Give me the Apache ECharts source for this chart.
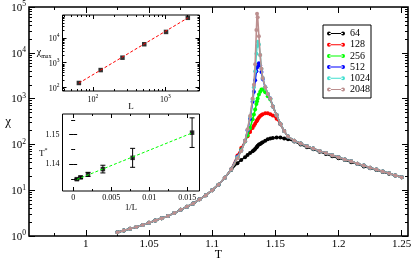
<!DOCTYPE html>
<html><head><meta charset="utf-8">
<script src="https://cdn.jsdelivr.net/npm/echarts@6/dist/echarts.min.js"></script>
<style>html,body{margin:0;padding:0;background:#fff}#c{width:413px;height:260px}</style>
</head><body><div id="c"></div>
<script>
// ---------------- data ----------------
const temps = [1.025,1.03,1.035,1.04,1.045,1.05,1.055,1.06,1.065,1.07,1.075,1.08,1.085,1.09,1.095,1.1,1.105,1.11,1.115,1.12,
  1.123,1.126,1.128,1.13,1.132,1.133,1.134,1.135,1.1355,1.136,1.137,1.138,1.139,1.14,1.142,1.144,1.146,1.148,1.151,1.154,1.157,1.16,
  1.165,1.17,1.175,1.18,1.185,1.19,1.195,1.2,1.205,1.21,1.215,1.22,1.225,1.23,1.235,1.24,1.245,1.25];

const chi64 = [1.20,1.32,1.44,1.58,1.74,1.95,2.19,2.45,2.75,3.16,3.72,4.37,5.13,6.31,7.76,10.0,13.2,18.6,27.5,38.9,
  45.7,52.5,58.9,64.6,70.8,74.1,79.4,85.1,89.1,93.3,100,102,107,112,120,129,135,138,141,141,135,129,
  115,100,87,78,69,62,55,50,45.7,40.7,37.2,33.1,30.2,27.5,25.1,22.9,20.9,19.1];
const chi128 = [1.20,1.32,1.44,1.58,1.74,1.95,2.19,2.45,2.75,3.16,3.72,4.37,5.13,6.31,7.76,10.0,13.2,18.6,28.8,57.5,
  83,120,151,186,229,257,282,316,331,355,389,417,437,457,479,479,457,427,363,275,195,148,
  120,105,91,81,72,65,58,52.5,47,42.7,38,34.7,31,28.2,25.7,23.4,20.9,19.1];
const chi256 = [1.20,1.32,1.44,1.58,1.74,1.95,2.19,2.45,2.75,3.16,3.72,4.37,5.13,6.31,7.76,10.0,13.2,18.6,28.2,52,
  76,115,158,229,355,447,575,759,871,1000,1230,1410,1580,1580,1380,1120,955,676,437,282,195,148,
  120,105,91,81,72,65,58,52.5,47,42.7,38,34.7,31,28.2,25.7,23.4,20.9,19.1];
const chi512 = [1.20,1.32,1.44,1.58,1.74,1.95,2.19,2.45,2.75,3.16,3.72,4.37,5.13,6.31,7.76,10.0,13.2,18.6,28.2,53.7,
  74,117,200,363,851,1410,2510,3980,4790,5370,5890,5250,3800,2690,1780,1260,1000,676,437,282,195,148,
  120,105,91,81,72,65,58,52.5,47,42.7,38,34.7,31,28.2,25.7,23.4,20.9,19.1];
const chi1024 = [1.20,1.32,1.44,1.58,1.74,1.95,2.19,2.45,2.75,3.16,3.72,4.37,5.13,6.31,7.76,10.0,13.2,18.6,28.2,52.5,
  72,117,209,398,955,1780,3980,9550,14100,17400,15100,8900,4470,2820,1780,1260,1000,676,437,282,195,148,
  120,105,91,81,72,65,58,52.5,47,42.7,38,34.7,31,28.2,25.7,23.4,20.9,19.1];
const chi2048 = [1.20,1.32,1.44,1.58,1.74,1.95,2.19,2.45,2.75,3.16,3.72,4.37,5.13,6.31,7.76,10.0,13.2,18.6,28.2,50,
  72,117,214,417,1000,2000,5620,31600,70800,60000,22900,8900,4470,2820,1780,1260,1000,676,437,282,195,148,
  120,105,91,81,72,65,58,52.5,47,42.7,38,34.7,31,28.2,25.7,23.4,20.9,19.1];

const sizeNames = ['64','128','256','512','1024','2048'];

// inset 1: chi_max vs L
const sizesL = [64,128,256,512,1024,2048];
const chiMax = [152,505,1600,5600,17600,65500];
const fitL = [64,2048];
const fitChiMax = [150,65000];

// inset 2: T* vs 1/L
const invL = [0.015625,0.0078125,0.00390625,0.001953,0.000977,0.000488];
const tStar = [1.1507,1.1422,1.1384,1.1366,1.1356,1.1350];
const tStarErr = [0.0050,0.0032,0.0013,0.0007,0.0004,0.0003];
const fitInvL = [0.000488,0.015625];
const fitTStar = [1.1349,1.1506];

// tick values / labels
const mainXMajor = [1,1.05,1.1,1.15,1.2,1.25];
const mainXMinor = [0.975,1.025,1.075,1.125,1.175,1.225];
const mainXLabels = ['1','1.05','1.1','1.15','1.2','1.25'];
const mainYMajor = [1,10,100,1000,10000,100000];
const mainYExp = ['0','1','2','3','4','5'];
const in1XMajor = [100,1000];
const in1XExp = ['2','3'];
const in1YMajor = [100,1000,10000];
const in1YExp = ['2','3','4'];
const in2XMajor = [0,0.005,0.01,0.015];
const in2XLabels = ['0','0.005','0.01','0.015'];
const in2XMinor = [0.0025,0.0075,0.0125];
const in2YMajor = [1.14,1.15];
const in2YLabels = ['1.14','1.15'];
const in2YMinor = [1.135,1.145,1.155];

// ---------------- helpers ----------------
function logMinor(decades, lo, hi) {
  const out = [];
  decades.forEach(d => { for (let k = 2; k <= 9; k++) { const v = k * d; if (v >= lo && v <= hi) out.push(v); } });
  return out;
}
const mainYMinor = logMinor([1,10,100,1000,10000], 1, 100000);
const in1XMinor = logMinor([10,100,1000], 38, 2970);
const in1YMinor = logMinor([10,100,1000,10000], 72, 85000);

const FONT = 'Liberation Serif';
function mkAxis(o) {
  const a = {
    type: o.type || 'value',
    gridIndex: o.grid,
    position: o.pos,
    min: o.min, max: o.max,
    axisLine: {show: false},
    splitLine: {show: false},
    axisTick: {show: true, inside: true, length: o.len, customValues: o.ticks,
      lineStyle: {color: '#000', width: 1}},
    axisLabel: o.fmt ? {show: true, customValues: o.ticks, formatter: o.fmt, margin: o.margin,
      color: '#000', fontFamily: FONT, fontSize: o.fs, rich: o.rich} : {show: false},
    silent: true
  };
  if (a.type === 'log') a.logBase = 10;
  if (o.name) {
    a.name = o.name; a.nameLocation = 'middle'; a.nameGap = o.nameGap; a.nameRotate = 0;
    a.nameMoveOverlap = false;
    a.nameTextStyle = Object.assign({color: '#000', fontFamily: FONT, fontSize: o.nameFs}, o.nameStyle || {});
  }
  return a;
}
function supRich(big, small) {
  return {
    b: {fontFamily: FONT, fontSize: big, color: '#000', verticalAlign: 'bottom', lineHeight: big + 2},
    s: {fontFamily: FONT, fontSize: small, color: '#000', verticalAlign: 'top', lineHeight: small + 1}
  };
}
function pick(vals, labels) {
  return v => { let best = 0; vals.forEach((t, i) => { if (Math.abs(t - v) < Math.abs(vals[best] - v)) best = i; }); return labels[best]; };
}
const expFmt = (vals, exps) => v => '{b|10}{s|' + pick(vals, exps)(v) + '}';

const xAxes = [
  mkAxis({grid:0,pos:'bottom',min:0.955,max:1.255,len:6,ticks:mainXMajor,fmt:pick(mainXMajor,mainXLabels),margin:3,fs:11,
    name:'T',nameGap:13,nameFs:12}),
  mkAxis({grid:0,pos:'bottom',min:0.955,max:1.255,len:3,ticks:mainXMinor}),
  mkAxis({grid:0,pos:'top',min:0.955,max:1.255,len:6,ticks:mainXMajor}),
  mkAxis({grid:0,pos:'top',min:0.955,max:1.255,len:3,ticks:mainXMinor}),
  mkAxis({grid:1,pos:'bottom',type:'log',min:38,max:2970,len:4,ticks:in1XMajor,fmt:expFmt(in1XMajor,in1XExp),margin:3,fs:8,
    rich:supRich(8,5.5),name:'L',nameGap:11,nameFs:9}),
  mkAxis({grid:1,pos:'bottom',type:'log',min:38,max:2970,len:2,ticks:in1XMinor}),
  mkAxis({grid:1,pos:'top',type:'log',min:38,max:2970,len:4,ticks:in1XMajor}),
  mkAxis({grid:1,pos:'top',type:'log',min:38,max:2970,len:2,ticks:in1XMinor}),
  mkAxis({grid:2,pos:'bottom',min:-0.0014,max:0.0166,len:4,ticks:in2XMajor,fmt:pick(in2XMajor,in2XLabels),margin:3,fs:8,
    name:'1/L',nameGap:12,nameFs:8.5}),
  mkAxis({grid:2,pos:'bottom',min:-0.0014,max:0.0166,len:2,ticks:in2XMinor}),
  mkAxis({grid:2,pos:'top',min:-0.0014,max:0.0166,len:4,ticks:in2XMajor}),
  mkAxis({grid:2,pos:'top',min:-0.0014,max:0.0166,len:2,ticks:in2XMinor})
];
const yAxes = [
  mkAxis({grid:0,pos:'left',type:'log',min:1,max:100000,len:6,ticks:mainYMajor,fmt:expFmt(mainYMajor,mainYExp),margin:3,fs:11,
    rich:supRich(11,7.5),name:'χ',nameGap:18,nameFs:13}),
  mkAxis({grid:0,pos:'left',type:'log',min:1,max:100000,len:3,ticks:mainYMinor}),
  mkAxis({grid:0,pos:'right',type:'log',min:1,max:100000,len:6,ticks:mainYMajor}),
  mkAxis({grid:0,pos:'right',type:'log',min:1,max:100000,len:3,ticks:mainYMinor}),
  mkAxis({grid:1,pos:'left',type:'log',min:72,max:85000,len:4,ticks:in1YMajor,fmt:expFmt(in1YMajor,in1YExp),margin:3,fs:8,
    rich:supRich(8,5.5),name:'{a|χ}{m|max}',nameGap:11,nameFs:10,
    nameStyle:{rich:{a:{fontFamily:FONT,fontSize:10,color:'#000',verticalAlign:'top',lineHeight:12},
                     m:{fontFamily:FONT,fontSize:6,color:'#000',verticalAlign:'bottom',lineHeight:7}}}}),
  mkAxis({grid:1,pos:'left',type:'log',min:72,max:85000,len:2,ticks:in1YMinor}),
  mkAxis({grid:1,pos:'right',type:'log',min:72,max:85000,len:4,ticks:in1YMajor}),
  mkAxis({grid:1,pos:'right',type:'log',min:72,max:85000,len:2,ticks:in1YMinor}),
  mkAxis({grid:2,pos:'left',min:1.131,max:1.157,len:4,ticks:in2YMajor,fmt:pick(in2YMajor,in2YLabels),margin:3,fs:8,
    name:'{a|T}{s|*}',nameGap:15,nameFs:9,
    nameStyle:{rich:{a:{fontFamily:FONT,fontSize:9,color:'#000',verticalAlign:'bottom',lineHeight:11},
                     s:{fontFamily:FONT,fontSize:6,color:'#000',verticalAlign:'top',lineHeight:7}}}}),
  mkAxis({grid:2,pos:'left',min:1.131,max:1.157,len:2,ticks:in2YMinor}),
  mkAxis({grid:2,pos:'right',min:1.131,max:1.157,len:4,ticks:in2YMajor}),
  mkAxis({grid:2,pos:'right',min:1.131,max:1.157,len:2,ticks:in2YMinor})
];

const palette = ['#000000','#ff0000','#00ff00','#0000ff','#40e0d0','#bc8f8f'];
const mainChi = [chi64, chi128, chi256, chi512, chi1024, chi2048];
const series = mainChi.map((arr, k) => ({
  type: 'line', name: sizeNames[k], xAxisIndex: 0, yAxisIndex: 0,
  data: temps.map((t, i) => [t, arr[i]]),
  symbol: 'circle', symbolSize: 4, showSymbol: true,
  lineStyle: {color: palette[k], width: 1.6},
  itemStyle: {color: palette[k]},
  z: 2 + k, silent: true, animation: false
}));

// inset 1
series.push({type:'scatter', xAxisIndex:4, yAxisIndex:4, symbol:'rect', symbolSize:4.5,
  itemStyle:{color:'#000'}, data: sizesL.map((l,i)=>[l, chiMax[i]]), z:10, silent:true, animation:false});
series.push({type:'line', xAxisIndex:4, yAxisIndex:4, symbol:'none',
  lineStyle:{color:'#ff0000', width:1, type:[3,2]}, data: fitL.map((l,i)=>[l, fitChiMax[i]]), z:11, silent:true, animation:false});

// inset 2
series.push({type:'custom', coordinateSystem:'cartesian2d', xAxisIndex:8, yAxisIndex:8,
  encode:{x:0, y:1}, z:10, silent:true, animation:false,
  data: invL.map((x,i)=>[x, tStar[i], tStarErr[i]]),
  renderItem: function (params, api) {
    const x = api.value(0), y = api.value(1), e = api.value(2);
    const lo = api.coord([x, y - e]), hi = api.coord([x, y + e]);
    const w = 2.5, st = {stroke:'#000', lineWidth:1};
    return {type:'group', children:[
      {type:'line', shape:{x1:lo[0],y1:lo[1],x2:hi[0],y2:hi[1]}, style:st},
      {type:'line', shape:{x1:lo[0]-w,y1:lo[1],x2:lo[0]+w,y2:lo[1]}, style:st},
      {type:'line', shape:{x1:hi[0]-w,y1:hi[1],x2:hi[0]+w,y2:hi[1]}, style:st}
    ]};
  }});
series.push({type:'scatter', xAxisIndex:8, yAxisIndex:8, symbol:'rect', symbolSize:4.5,
  itemStyle:{color:'#000'}, data: invL.map((x,i)=>[x, tStar[i]]), z:11, silent:true, animation:false});
series.push({type:'line', xAxisIndex:8, yAxisIndex:8, symbol:'none',
  lineStyle:{color:'#00ff00', width:1, type:[3,2]}, data: fitInvL.map((x,i)=>[x, fitTStar[i]]), z:12, silent:true, animation:false});

const gridBase = {show:true, containLabel:false, outerBoundsMode:'none', borderColor:'#000'};
const option = {
  animation: false,
  backgroundColor: '#fff',
  grid: [
    Object.assign({left:29, top:7, width:379, height:229, borderWidth:1.6, backgroundColor:'rgba(0,0,0,0)'}, gridBase),
    Object.assign({left:62.5, top:15, width:137, height:76, borderWidth:1, backgroundColor:'#fff'}, gridBase),
    Object.assign({left:62.5, top:114, width:137, height:77, borderWidth:1, backgroundColor:'#fff'}, gridBase)
  ],
  xAxis: xAxes,
  yAxis: yAxes,
  legend: {
    data: sizeNames, orient:'vertical', left:323, top:25,
    padding:[3,1,3,4], itemGap:0.2, itemWidth:18, itemHeight:4,
    icon:'path://M0,2a2,2 0 1,0 4,0a2,2 0 1,0 -4,0zM14,2a2,2 0 1,0 4,0a2,2 0 1,0 -4,0zM2,1.5h14v1h-14z',
    borderColor:'#000', borderWidth:1, backgroundColor:'#fff', selectedMode:false,
    textStyle:{fontFamily:FONT, fontSize:10, lineHeight:11, color:'#000'}
  },
  series: series
};
const chart = echarts.init(document.getElementById('c'), null, {renderer:'canvas'});
chart.setOption(option);
</script>
</body></html>
